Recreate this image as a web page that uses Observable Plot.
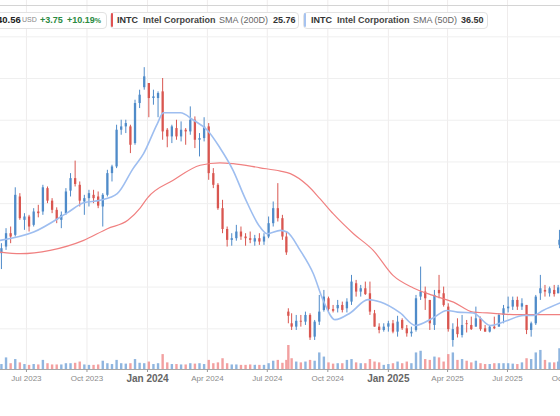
<!DOCTYPE html>
<html><head><meta charset="utf-8">
<script src="https://cdn.jsdelivr.net/npm/d3@7"></script>
<script src="https://cdn.jsdelivr.net/npm/@observablehq/plot@0.6"></script>
<style>
body{margin:0;background:#fff;font-family:"Liberation Sans",Arial,sans-serif;}
#wrap{position:relative;width:560px;height:416px;overflow:hidden;background:#fff;}
#wrap svg{position:absolute;left:0;top:0;}
.box{position:absolute;top:12px;height:15px;border:1px solid #e2e2e2;border-radius:4px;background:#fff;z-index:5;}
.bar{position:absolute;top:13px;height:14px;width:2px;z-index:6;border-radius:1px;}
.t{position:absolute;top:12px;line-height:16px;font-size:9px;white-space:nowrap;z-index:7;}
.b{font-weight:bold;color:#333;}
.n{color:#666;}
.g{font-weight:bold;color:#2b8a42;}
#topline{position:absolute;left:0;top:5px;width:560px;height:1px;background:#d4d4d4;z-index:4;}
</style></head>
<body><div id="wrap"></div>
<script>
// weekly candles (centre date of each trading week)
const dates = [
"2023-05-24","2023-05-31","2023-06-07","2023-06-14","2023-06-21","2023-06-28","2023-07-05","2023-07-12","2023-07-19","2023-07-26","2023-08-02","2023-08-09","2023-08-16","2023-08-23","2023-08-30","2023-09-06","2023-09-13","2023-09-20","2023-09-27","2023-10-04","2023-10-11","2023-10-18","2023-10-25","2023-11-01","2023-11-08","2023-11-15","2023-11-22","2023-11-29","2023-12-06","2023-12-13","2023-12-20","2023-12-27",
"2024-01-03","2024-01-10","2024-01-17","2024-01-24","2024-01-31","2024-02-07","2024-02-14","2024-02-21","2024-02-28","2024-03-06","2024-03-13","2024-03-20","2024-03-27","2024-04-03","2024-04-10","2024-04-17","2024-04-24","2024-05-01","2024-05-08","2024-05-15","2024-05-22","2024-05-29","2024-06-05","2024-06-12","2024-06-19","2024-06-26","2024-07-03","2024-07-10","2024-07-17","2024-07-24","2024-07-30","2024-08-02","2024-08-07","2024-08-14","2024-08-21","2024-08-28","2024-09-04","2024-09-11","2024-09-18","2024-09-25","2024-10-02","2024-10-09","2024-10-16","2024-10-23","2024-10-30","2024-11-06","2024-11-13","2024-11-20","2024-11-27","2024-12-04","2024-12-11","2024-12-18","2024-12-25","2025-01-01",
"2025-01-08","2025-01-15","2025-01-22","2025-01-29","2025-02-05","2025-02-12","2025-02-19","2025-02-26","2025-03-05","2025-03-12","2025-03-19","2025-03-26","2025-04-02","2025-04-09","2025-04-16","2025-04-23","2025-04-30","2025-05-07","2025-05-14","2025-05-21","2025-05-28","2025-06-04","2025-06-11","2025-06-18","2025-06-25","2025-07-02","2025-07-09","2025-07-16","2025-07-23","2025-07-30","2025-08-06","2025-08-13","2025-08-20","2025-08-27","2025-09-03","2025-09-10","2025-09-16","2025-09-18"];
const opens = [29.0,29.8,31.4,31.2,35.8,33.0,33.4,32.4,34.0,34.0,36.8,35.3,34.2,33.0,33.8,36.5,38.0,37.2,35.2,35.6,36.0,35.8,34.6,36.0,38.6,39.4,43.8,44.2,44.2,42.2,47.0,48.9,
49.4,47.6,47.6,48.4,43.8,43.0,44.0,43.0,43.8,43.6,45.0,42.6,42.8,44.2,38.6,37.2,34.4,31.9,30.6,30.8,31.6,31.0,30.8,30.4,30.8,30.4,31.0,32.6,34.4,33.2,31.0,22.0,20.6,20.2,20.9,20.8,21.6,19.0,20.8,22.2,23.6,22.3,22.4,22.8,22.4,23.2,25.4,24.4,24.8,24.2,21.8,20.2,19.8,20.2,
20.6,19.6,21.0,20.0,19.4,19.8,23.8,24.4,23.4,20.4,24.6,24.2,22.6,18.6,20.2,19.2,20.6,20.4,20.2,21.2,20.0,19.6,20.2,20.2,21.6,22.4,22.6,23.4,22.6,22.8,19.8,20.6,24.2,24.6,24.2,24.6,24.2,30.0];
const highs = [30.2,32.0,32.2,36.9,36.2,33.8,33.6,34.4,34.8,37.2,37.0,35.6,34.5,34.0,36.8,38.6,40.1,37.6,36.0,36.6,36.6,36.4,36.2,39.0,39.6,44.4,45.0,45.0,44.4,47.4,48.6,51.3,
49.4,48.6,48.4,50.0,44.0,44.4,45.0,44.8,44.0,46.6,45.4,43.4,45.3,44.6,39.2,37.4,35.4,32.2,31.4,32.4,32.2,31.4,31.6,31.2,31.4,31.4,33.4,35.2,37.4,33.6,31.6,22.4,21.8,21.6,21.6,22.0,21.8,21.0,24.0,24.6,23.8,22.8,23.4,23.2,23.6,26.4,25.8,25.2,25.6,25.6,22.2,20.6,20.6,20.9,
21.0,21.5,21.2,20.4,20.2,24.0,27.4,25.0,23.4,24.6,26.4,25.0,23.0,20.6,21.2,21.6,21.0,21.4,22.6,21.4,20.4,20.4,21.4,21.8,22.8,23.8,23.8,23.8,23.6,22.8,20.8,24.0,26.4,25.2,25.0,25.2,25.2,31.8];
const lows = [27.1,29.4,30.2,31.0,33.0,31.8,31.6,32.2,33.3,33.6,35.0,33.8,32.6,32.0,33.6,35.8,37.0,34.6,33.6,34.6,35.0,34.4,32.2,35.8,37.6,39.2,43.2,43.4,41.0,42.0,46.4,48.6,
45.3,46.8,45.3,42.6,41.7,42.2,42.6,42.4,42.0,43.2,41.6,40.6,42.4,37.8,36.8,34.2,31.4,29.8,29.9,30.5,30.6,29.9,30.2,29.9,30.0,30.0,30.8,32.2,32.8,30.6,28.8,20.6,19.8,19.8,20.2,20.4,18.6,18.6,20.4,22.0,22.0,21.9,21.9,21.9,21.9,22.8,23.8,23.8,24.0,21.6,20.2,19.4,19.6,19.6,
19.4,19.0,19.8,19.0,19.0,19.6,23.4,22.2,19.8,19.8,23.6,22.6,19.6,17.8,18.9,18.9,19.5,19.8,20.2,19.7,19.6,19.5,19.9,20.2,20.6,21.9,22.2,22.2,22.2,19.3,19.0,20.4,23.4,23.8,23.8,23.8,24.2,29.6];
const closes = [29.6,31.4,31.0,36.0,33.2,33.4,32.2,34.0,33.8,36.9,35.3,34.2,33.0,33.6,36.4,38.0,37.3,35.3,35.6,36.2,35.6,34.7,36.0,38.6,39.4,43.8,44.2,44.6,42.0,47.0,48.0,50.2,
47.6,47.8,48.2,43.6,43.0,44.2,43.0,43.8,43.6,45.0,42.6,42.8,44.2,38.6,37.2,34.4,31.9,30.6,30.8,31.6,31.0,30.8,30.6,30.8,30.4,31.0,32.6,34.4,33.2,31.0,29.1,21.5,20.2,20.9,20.8,21.6,18.9,20.8,22.0,23.8,22.3,22.1,22.8,22.2,23.2,25.6,24.4,24.8,24.1,22.0,20.2,19.8,20.2,20.6,
19.6,20.8,20.0,19.4,19.6,23.6,24.4,23.6,20.6,24.0,24.2,22.8,19.9,19.9,19.3,20.4,20.5,19.9,21.2,19.9,19.6,20.2,20.0,21.6,22.4,22.6,23.4,22.6,23.0,19.8,20.6,23.8,24.8,24.4,24.8,24.1,24.9,30.6];
const volumes = [60,140,70,120,80,60,50,60,55,110,70,55,55,55,70,70,75,90,55,50,50,55,100,70,60,110,70,65,70,120,75,70,
90,60,70,180,80,60,60,55,55,70,65,70,60,110,70,80,130,70,55,55,50,50,55,50,50,50,70,100,110,75,110,290,130,90,80,90,110,100,200,150,80,65,70,70,110,120,80,70,70,120,90,80,50,60,
70,90,70,90,70,200,220,120,110,150,140,90,180,200,110,120,100,80,100,70,60,60,70,70,70,70,65,60,80,130,120,200,230,110,80,80,90,250];

// moving averages
const sma50Dates = ["2023-05-22","2023-07-12","2023-09-01","2023-09-26","2023-10-21","2023-11-16","2023-12-10","2023-12-26","2024-01-16","2024-01-25","2024-02-20","2024-03-11","2024-04-01","2024-04-20","2024-05-10","2024-05-28","2024-06-20","2024-07-01","2024-07-21","2024-07-31","2024-08-20","2024-09-09","2024-09-24","2024-10-12","2024-11-04","2024-12-01","2024-12-20","2025-01-19","2025-02-11","2025-03-10","2025-03-31","2025-04-16","2025-05-10","2025-06-05","2025-07-01","2025-07-25","2025-08-09","2025-08-24","2025-09-19"];
const sma50Values = [30.6,31.6,33.9,35.1,35.4,36.2,39.2,41.0,44.6,45.9,45.9,45.0,43.8,41.7,39.0,35.7,32.2,31.4,31.8,31.6,29.4,26.6,23.4,21.1,21.9,23.5,23.2,21.9,20.4,21.3,22.2,22.0,21.9,20.4,21.0,21.6,21.6,22.2,23.1];
const sma200Dates = ["2023-05-22","2023-06-22","2023-08-06","2023-09-26","2023-11-01","2023-12-02","2023-12-21","2024-01-01","2024-02-09","2024-03-21","2024-04-20","2024-05-10","2024-06-20","2024-07-21","2024-08-05","2024-08-31","2024-09-19","2024-10-09","2024-11-09","2024-12-09","2025-01-08","2025-02-08","2025-03-10","2025-04-10","2025-05-10","2025-05-31","2025-07-10","2025-09-19"];
const sma200Values = [29.2,29.0,29.4,30.6,32.0,33.0,34.5,35.7,37.8,39.6,39.9,39.8,39.3,38.9,38.6,37.2,35.6,33.8,31.4,29.4,26.4,24.9,24.0,23.2,22.0,21.9,21.7,21.7];

const priceTicks = [20,25,30,35,40,45,50,55];
const tickDates = ["2023-07-01","2023-10-01","2024-01-01","2024-04-01","2024-07-01","2024-10-01","2025-01-01","2025-04-01","2025-07-01","2025-10-01"];

const parse = d3.utcParse("%Y-%m-%d");
const UP = "#4f8bc9", DOWN = "#d95650", VUP = "#8fb5df", VDOWN = "#f2a0a0";
const candles = dates.map((d,i)=>({date:parse(d),open:opens[i],high:highs[i],low:lows[i],close:closes[i],volume:volumes[i]}));
const sma50 = sma50Dates.map((d,i)=>({date:parse(d),value:sma50Values[i]}));
const sma200 = sma200Dates.map((d,i)=>({date:parse(d),value:sma200Values[i]}));
const ticks = tickDates.map(parse);
const janTicks = ticks.filter(d=>d.getUTCMonth()===0);
const otherTicks = ticks.filter(d=>d.getUTCMonth()!==0);
const xDomain = [new Date(Date.UTC(2023,4,22,14)), new Date(Date.UTC(2025,8,19,14))];

const volPlot = Plot.plot({
  width:560, height:416, marginLeft:0, marginRight:0, marginTop:0, marginBottom:47,
  x:{type:"utc", domain:xDomain, axis:null},
  y:{domain:[0,350], range:[369,340], axis:null},
  style:{background:"transparent"},
  marks:[
    Plot.gridX(ticks, {stroke:"#efecec", strokeOpacity:1}),
    Plot.ruleX(candles, {x:"date", y1:0, y2:"volume", stroke:d=>d.close>=d.open?VUP:VDOWN, strokeWidth:2.4, clip:true})
  ]
});

const pricePlot = Plot.plot({
  width:560, height:416, marginLeft:0, marginRight:0, marginTop:0, marginBottom:47,
  x:{type:"utc", domain:xDomain, axis:null},
  y:{domain:[20,55], range:[328.3,36.3], axis:null},
  style:{background:"transparent", fontFamily:"Liberation Sans, Arial, sans-serif"},
  marks:[
    Plot.gridY(priceTicks, {stroke:"#efefef", strokeOpacity:1}),
    Plot.ruleX(candles, {x:"date", y1:"low", y2:"high", stroke:d=>d.close>=d.open?UP:DOWN, strokeWidth:1, clip:true}),
    Plot.ruleX(candles, {x:"date", y1:"open", y2:"close", stroke:d=>d.close>=d.open?UP:DOWN, strokeWidth:2.3, clip:true}),
    Plot.line(sma200, {x:"date", y:"value", stroke:"#f08080", strokeWidth:1.2, curve:"monotone-x", clip:true}),
    Plot.line(sma50, {x:"date", y:"value", stroke:"#9ebef0", strokeWidth:1.6, curve:"monotone-x", clip:true}),
    Plot.frame({anchor:"bottom", stroke:"#a8a8a8", strokeOpacity:1}),
    Plot.axisX(otherTicks, {tickFormat:d3.utcFormat("%b %Y"), tickSize:3, tickPadding:3, fontSize:8, fill:"#8a8a8a", stroke:"#999", strokeOpacity:1}),
    Plot.axisX(janTicks, {tickFormat:d3.utcFormat("%b %Y"), tickSize:3, tickPadding:2, fontSize:10, fontWeight:"bold", fill:"#666", stroke:"#999", strokeOpacity:1})
  ]
});

const wrap = document.getElementById("wrap");
wrap.appendChild(volPlot);
wrap.appendChild(pricePlot);
wrap.insertAdjacentHTML("beforeend", `
<div id="topline"></div>
<div class="box" style="left:-10px;width:115px;"></div>
<div class="t b" style="left:-3px;font-size:9.5px;color:#222;">40.56</div>
<div class="t" style="left:22px;font-size:7px;color:#888;">USD</div>
<div class="t g" style="left:40px;">+3.75</div>
<div class="t g" style="left:67px;">+10.19<span style="font-size:7px;">%</span></div>
<div class="box" style="left:110px;width:187px;"></div>
<div class="bar" style="left:111px;background:#e05252;"></div>
<div class="t b" style="left:117px;">INTC</div>
<div class="t b" style="left:143px;color:#444;">Intel Corporation</div>
<div class="t n" style="left:219px;">SMA (200D)</div>
<div class="t b" style="left:273px;">25.76</div>
<div class="box" style="left:303px;width:183px;"></div>
<div class="bar" style="left:304px;background:#a6c3f0;"></div>
<div class="t b" style="left:311px;">INTC</div>
<div class="t b" style="left:337px;color:#444;">Intel Corporation</div>
<div class="t n" style="left:413px;">SMA (50D)</div>
<div class="t b" style="left:461px;">36.50</div>
`);
</script></body></html>
